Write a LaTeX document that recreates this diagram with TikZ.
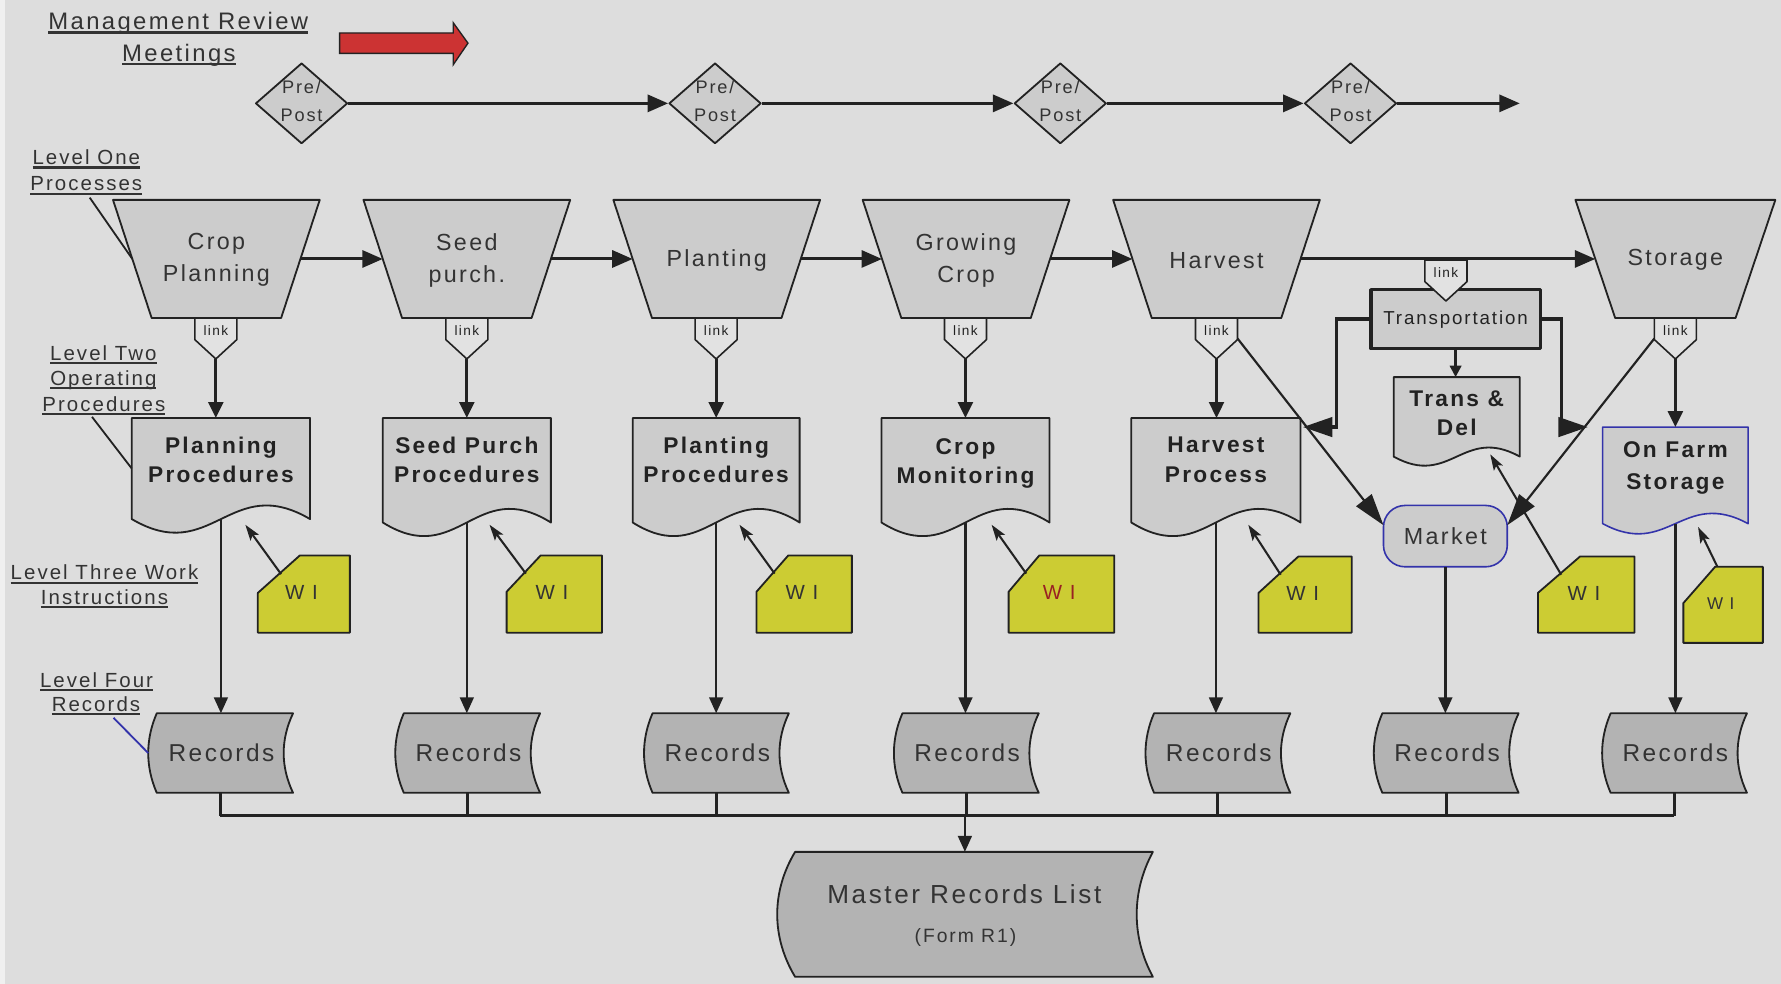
\documentclass[tikz,border=0pt]{standalone}
\usepackage{fontspec}
\setmainfont{Liberation Sans}[LetterSpace=10]
\usetikzlibrary{arrows.meta,shapes.geometric,calc}
\definecolor{bgc}{HTML}{DDDDDD}
\definecolor{shpc}{HTML}{CCCCCC}
\definecolor{recc}{HTML}{B3B3B3}
\definecolor{linkc}{HTML}{E2E2E2}
\definecolor{wic}{HTML}{CCCC33}
\definecolor{redc}{HTML}{CC3333}
\definecolor{bluec}{HTML}{3333AA}
\definecolor{linec}{HTML}{222222}
\definecolor{txtc}{HTML}{333333}
\definecolor{wired}{HTML}{992222}

\newcommand\ulx[1]{\setbox0\hbox{#1}\rlap{\rule[-3.5pt]{\wd0}{2pt}}\box0}

\tikzset{
 shp/.style={fill=shpc, draw=linec, line width=1.6pt, line join=round},
 recst/.style={fill=recc, draw=linec, line width=1.6pt, line join=round},
 linkst/.style={fill=linkc, draw=linec, line width=1.4pt, line join=round},
 wist/.style={fill=wic, draw=linec, line width=1.6pt, line join=round},
 docb/.style={shp, draw=bluec, line width=1.4pt},
 fr/.style={draw=none, inner sep=0pt, outer sep=0pt, shape=rectangle},
 trapt/.style={inner sep=0pt, align=center, text=txtc, font=\fontsize{20.5}{28}\selectfont},
 doct/.style={inner sep=0pt, align=center, text=linec, font=\bfseries\fontsize{20}{26}\selectfont},
 linkt/.style={inner sep=0pt, text=linec, font=\fontsize{12}{14}\selectfont},
 rectxt/.style={inner sep=0pt, text=txtc, font=\fontsize{21.5}{24}\selectfont},
 mkt/.style={inner sep=0pt, text=txtc, font=\fontsize{20.5}{24}\selectfont},
 ppt/.style={inner sep=0pt, align=center, text=txtc, font=\fontsize{16}{24}\selectfont},
 lab/.style={inner sep=0pt, anchor=base, text=txtc, font=\fontsize{18}{22}\selectfont},
 titl/.style={inner sep=0pt, anchor=base, text=txtc, font=\fontsize{21}{24}\selectfont},
 wit/.style={inner sep=0pt, text=txtc, font=\fontsize{18}{20}\selectfont},
 conn/.style={draw=linec, line width=2.6pt},
 arrm/.style={conn, -{Triangle[length=18pt,width=15pt]}},
 arrd/.style={conn, line width=2.6pt, -{Triangle[length=14pt,width=13pt]}},
 arrs/.style={conn, line width=2.2pt, -{Triangle[length=10pt,width=10pt]}},
 arrr/.style={draw=linec, line width=2.2pt, -{Triangle[length=14pt,width=12pt]}},
 arrbig/.style={draw=linec, line width=3pt, -{Triangle[length=26pt,width=17pt]}},
 arrmk/.style={draw=linec, line width=1.9pt, -{Triangle[length=28pt,width=17pt]}},
 arrwi/.style={draw=linec, line width=1.8pt, -{Stealth[length=14pt,width=9pt,inset=3pt]}},
 ptr/.style={draw=linec, line width=1.6pt},
}

% trapezoid: name, cx, half top, half bottom, text
\newcommand\trapz[5]{%
  \path[shp] ({#2-#3},176) -- ({#2+#3},176) -- ({#2+#4},280) -- ({#2-#4},280) -- cycle;
  \node[fr, minimum width={#3+#4}, minimum height=104] (#1) at (#2,228) {};
  \node[trapt] (#1t) at (#2,229) {#5};
}
% link: name, cx, top
\newcommand\lnk[3]{%
  \path[linkst] ({#2-18.5},#3) -- ({#2+18.5},#3) -- ({#2+18.5},#3+19) -- (#2,#3+36) -- ({#2-18.5},#3+19) -- cycle;
  \node[fr, minimum width=37, minimum height=36] (#1) at (#2,#3+18) {};
  \node[linkt] (#1t) at (#2,#3+11) {link};
}
% document: name, L, R, T, B, amp, style, text, text y
\newcommand\docu[9]{%
  \path[#7] (#2,#4) -- (#3,#4) -- (#3,#5) .. controls ({#2+0.55*(#3-#2)},{#5-3.46*#6}) and ({#2+0.45*(#3-#2)},{#5+3.46*#6}) .. (#2,#5) -- cycle;
  \node[fr, minimum width={#3-#2}, minimum height={#5-#4}] (#1) at ({(#2+#3)/2},{(#4+#5)/2}) {};
  \node[doct] (#1t) at ({(#2+#3)/2},#9) {#8};
}
% records: name, cx
\newcommand\recs[2]{%
  \path[recst] ({#2-56},628) -- ({#2+64},628) .. controls ({#2+53},651) and ({#2+53},675) .. ({#2+64},698) -- ({#2-56},698) .. controls ({#2-66},675) and ({#2-66},651) .. ({#2-56},628) -- cycle;
  \node[fr, minimum width=127.5, minimum height=70] (#1) at ({#2+0.25},663) {};
  \node[rectxt] (#1t) at ({#2+1},663) {Records};
}
% work instruction: name, L, T, R, B, cutx, cuty, text style
\newcommand\wi[8]{%
  \path[wist] (#2,#3+#7) -- (#2+#6,#3) -- (#4,#3) -- (#4,#5) -- (#2,#5) -- cycle;
  \node[fr, minimum width={#4-#2}, minimum height={#5-#3}] (#1) at ({(#2+#4)/2},{(#3+#5)/2}) {};
  \coordinate (#1c) at ({#2+#6/2+2},{#3+#7/2});
  \node[#8] (#1t) at ({(#2+#4)/2-2},{(#3+#5)/2-1}) {W I};
}

\begin{document}
\begin{tikzpicture}[x=1pt,y=-1pt]
\useasboundingbox (0,0) rectangle (1568,866);
\fill[bgc] (0,0) rectangle (1568,866);
\fill[white!55!bgc] (0,0) rectangle (4,866);

% title
\node[titl] (mr1) at (157,26) {\ulx{Management Review}};
\node[titl] (mr2) at (157.5,54) {\ulx{Meetings}};
\path[fill=redc, draw=linec, line width=1.2pt, line join=miter] (299,29) -- (399,29) -- (399,20) -- (412,38) -- (399,57) -- (399,47) -- (299,47) -- cycle;

% management review diamonds
\foreach \n/\x in {d1/265.5, d2/629.5, d3/933.5, d4/1189}{
  \node[shp, diamond, minimum width=81, minimum height=71, inner sep=0pt] (\n) at (\x,91) {};
  \node[ppt] (t\n) at (\x,89) {Pre/\\Post};
}
\coordinate (tlend) at (1338,91);
\draw[arrm] (d1.east) -- (d2.west);
\draw[arrm] (d2.east) -- (d3.west);
\draw[arrm] (d3.east) -- (d4.west);
\draw[arrm] (d4.east) -- (tlend);

% level one processes
\trapz{t1}{190.5}{91}{57}{Crop\\Planning}
\trapz{t2}{411}{91}{57}{Seed\\purch.}
\trapz{t3}{631}{91}{57}{Planting}
\trapz{t4}{850.5}{91}{57}{Growing\\Crop}
\trapz{t5}{1071}{91}{57}{Harvest}
\trapz{t6}{1475}{88}{53}{Storage}
\draw[arrm] (t1.east) -- (t2.west);
\draw[arrm] (t2.east) -- (t3.west);
\draw[arrm] (t3.east) -- (t4.west);
\draw[arrm] (t4.east) -- (t5.west);
\draw[arrm] (t5.east) -- (t6.west);

\lnk{l1}{190}{280}
\lnk{l2}{411}{280}
\lnk{l3}{630.5}{280}
\lnk{l4}{850}{280}
\lnk{l5}{1071}{280}
\lnk{l6}{1475}{280}

% transportation
\node[shp, line width=3pt, minimum width=149, minimum height=52, inner sep=0pt, text=linec, font=\fontsize{16.5}{20}\selectfont] (tr) at (1281.5,281) {Transportation};
\lnk{l7}{1273}{229}

% level two procedures
\docu{pp1}{116}{273}{368}{457}{12}{shp}{Planning\\Procedures}{405}
\docu{pp2}{337}{485}{368}{460}{12}{shp}{Seed Purch\\Procedures}{405}
\docu{pp3}{557}{704}{368}{460}{12}{shp}{Planting\\Procedures}{405}
\docu{pp4}{776}{924}{368}{460}{12}{shp}{Crop\\Monitoring}{408}
\docu{pp5}{996}{1145}{368}{460}{12}{shp}{Harvest\\Process}{405}
\docu{td}{1227}{1338}{332}{402}{8}{shp}{Trans \&\\Del}{364}
\docu{ofs}{1411}{1539}{376}{461}{9}{docb}{On Farm\\[2pt]Storage}{412}

\foreach \a/\b in {l1/pp1, l2/pp2, l3/pp3, l4/pp4, l5/pp5, l6/ofs}
  \draw[arrd] (\a.south) -- (\a.south |- \b.north);
\draw[arrs] (tr.south) -- (tr.south |- td.north);

\coordinate (hpa) at (1147,376);
\coordinate (ofa) at (1398,376);
\draw[arrbig] (tr.west) -- ++(-29,0) |- (hpa);
\draw[arrbig] (tr.east) -- ++(17,0) |- (ofa);

% market
\path[shp, draw=bluec, line width=1.4pt, rounded corners=19] (1218,445) rectangle (1327,499);
\node[fr, minimum width=109, minimum height=54] (mk) at (1272.5,472) {};
\node[mkt] (mkt) at (1272.5,472) {Market};
\draw[arrmk] (l5.east) -- (mk.170);
\draw[arrmk] (l6.west) -- (mk.10);

% records
\recs{r1}{194}
\recs{r2}{411.5}
\recs{r3}{630.5}
\recs{r4}{850.5}
\recs{r5}{1072}
\recs{r6}{1273}
\recs{r7}{1474}
\foreach \a/\b in {pp1/r1, pp2/r2, pp3/r3, pp4/r4, pp5/r5, mk/r6, ofs/r7}
  \draw[arrr] (\a.south) -- (\a.south |- \b.north);

% master records list
\path[recst] (700,750) -- (1015,750) .. controls (996,785) and (996,825) .. (1015,860) -- (700,860) .. controls (679,825) and (679,785) .. (700,750) -- cycle;
\node[fr, minimum width=331, minimum height=110] (ms) at (849.5,805) {};
\node[inner sep=0pt, text=txtc, font=\fontsize{23}{26}\selectfont] (mst1) at (849,787) {Master Records List};
\node[inner sep=0pt, text=txtc, font=\fontsize{17}{20}\selectfont] (mst2) at (850,825) {(Form R1)};

\coordinate (busL) at (194,718);
\coordinate (busR) at (1474,718);
\draw[conn] (busL) -- (busR);
\foreach \r in {r1,r2,r3,r4,r5,r6,r7}
  \draw[conn] (\r.south) -- (\r.south |- busL);
\draw[arrr] (ms.north |- busL) -- (ms.north);

% work instructions
\wi{w1}{227}{489}{308}{557}{37}{33}{wit}
\wi{w2}{446}{489}{530}{557}{30}{32}{wit}
\wi{w3}{666}{489}{750}{557}{28}{32}{wit}
\wi{w4}{888}{489}{981}{557}{27}{32}{wit, text=wired}
\wi{w5}{1108}{490}{1190}{557}{35}{32}{wit}
\wi{w6}{1354}{490}{1439}{557}{37}{32}{wit}
\wi{w7}{1482}{499}{1552}{566}{28}{32}{wit, font=\fontsize{15}{18}\selectfont}
\coordinate (w1e) at (216,462);
\coordinate (w2e) at (431,462);
\coordinate (w3e) at (651,462);
\coordinate (w4e) at (873,462);
\coordinate (w5e) at (1099,462);
\coordinate (w6e) at (1312,400);
\coordinate (w7e) at (1495,464);
\foreach \w in {w1,w2,w3,w4,w5,w6}
  \draw[arrwi] (\w c) -- (\w e);
\draw[arrwi] ($(w7.north west)+(30,0)$) -- (w7e);

% level labels
\node[lab] (la1) at (76,145) {\ulx{Level One}};
\node[lab] (la2) at (76,168) {\ulx{Processes}};
\node[lab] (lb1) at (91,317) {\ulx{Level Two}};
\node[lab] (lb2) at (91,339) {\ulx{Operating}};
\node[lab] (lb3) at (91.5,362) {\ulx{Procedures}};
\node[lab] (lc1) at (92,510.5) {\ulx{Level Three Work}};
\node[lab] (lc2) at (92,532) {\ulx{Instructions}};
\node[lab] (ld1) at (85,605) {\ulx{Level Four}};
\node[lab] (ld2) at (84.5,626) {\ulx{Records}};
\coordinate (pa) at (79,174);
\coordinate (pb) at (81,367);
\coordinate (pc) at (100,632);
\draw[ptr] (pa) -- (t1.west);
\draw[ptr] (pb) -- (pp1.west);
\draw[ptr, draw=bluec] (pc) -- (r1.west);
\end{tikzpicture}
\end{document}
